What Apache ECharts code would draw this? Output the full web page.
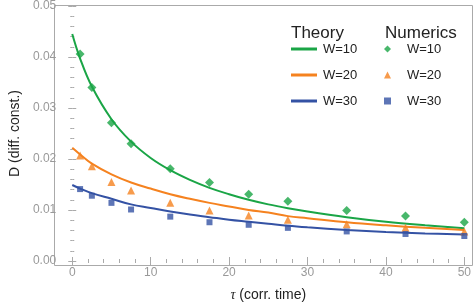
<!DOCTYPE html>
<html><head><meta charset="utf-8">
<script src="https://cdn.jsdelivr.net/npm/echarts@6/dist/echarts.min.js"></script>
<style>html,body{margin:0;padding:0;background:#fff}#c{width:474px;height:307px}</style>
</head><body><div id="c"></div>
<script>
// Theory curves
var tauTheory = [0, 1, 2.5, 5, 7.5, 10, 12.5, 15, 17.5, 20, 22.5, 25, 27.5, 30, 35, 40, 45, 50];
var theoryW10 = [0.0445, 0.0397, 0.0342, 0.0278, 0.0234, 0.0202, 0.0178, 0.0159, 0.01435, 0.0131, 0.0120, 0.0111, 0.01035, 0.0097, 0.0086, 0.0077, 0.0070, 0.0064];
var theoryW20 = [0.0222, 0.0209, 0.0191, 0.0170, 0.0154, 0.0142, 0.0131, 0.0122, 0.0114, 0.0107, 0.0100, 0.0095, 0.0088, 0.0084, 0.0076, 0.0070, 0.0065, 0.0061];
var theoryW30 = [0.0149, 0.0142, 0.0133, 0.0122, 0.0111, 0.0104, 0.0097, 0.0091, 0.0086, 0.0081, 0.0077, 0.0073, 0.0069, 0.0066, 0.0061, 0.0057, 0.0054, 0.0052];
// Numerics points
var tauNum = [1, 2.5, 5, 7.5, 12.5, 17.5, 22.5, 27.5, 35, 42.5, 50];
var numW10 = [0.0406, 0.0340, 0.0271, 0.0230, 0.0181, 0.0154, 0.0131, 0.0117, 0.0099, 0.0088, 0.0076];
var numW20 = [0.0207, 0.0186, 0.0155, 0.0138, 0.0114, 0.0099, 0.0089, 0.0081, 0.0072, 0.0065, 0.0058];
var numW30 = [0.0141, 0.0128, 0.0114, 0.0101, 0.0087, 0.0076, 0.0071, 0.0065, 0.0058, 0.0053, 0.0049];
var labels = ['W=10', 'W=20', 'W=30'];
var colors = ['#1aa546', '#f5821f', '#3452a4'];
var symbols = ['diamond', 'triangle', 'rect'];
var symbolSizes = [9, 8, 6];

function pairs(xs, ys) { return xs.map(function (x, i) { return [x, ys[i]]; }); }
var theory = [theoryW10, theoryW20, theoryW30];
var nums = [numW10, numW20, numW30];
var series = [];
theory.forEach(function (ys, i) {
  series.push({ name: labels[i], type: 'line', data: pairs(tauTheory, ys), smooth: 0.4, symbol: 'none',
    lineStyle: { color: colors[i], width: 2 }, itemStyle: { color: colors[i] }, z: 2 });
});
nums.forEach(function (ys, i) {
  series.push({ name: labels[i] + ' (num)', type: 'scatter', data: pairs(tauNum, ys), symbol: symbols[i],
    symbolSize: symbolSizes[i], itemStyle: { color: colors[i] }, z: 3 });
});

var gray = '#aaaaaa';
var tickCommon = { show: true, inside: true, length: 4, lineStyle: { color: gray } };
var minorCommon = { show: true, length: 2, lineStyle: { color: gray } };
var font = 'Liberation Sans, Arial, sans-serif';

var chart = echarts.init(document.getElementById('c'));
chart.setOption({
  animation: false,
  textStyle: { fontFamily: font },
  grid: { left: 62, right: 8, top: 5, bottom: 42, containLabel: false },
  title: [
    { text: 'Theory', left: 286, top: 20, textStyle: { fontSize: 17, fontWeight: 'normal', color: '#222', fontFamily: font } },
    { text: 'Numerics', left: 380, top: 20, textStyle: { fontSize: 17, fontWeight: 'normal', color: '#222', fontFamily: font } }
  ],
  legend: [
    { data: labels, orient: 'vertical', left: 286, top: 36, itemWidth: 26, itemHeight: 3, itemGap: 10, icon: 'rect',
      textStyle: { fontSize: 13, color: '#222', lineHeight: 16, padding: [0, 0, 0, 1] }, selectedMode: false },
    { data: labels.map(function (l) { return l + ' (num)'; }), orient: 'vertical', left: 379, top: 36, itemWidth: 7, itemHeight: 7, itemGap: 10,
      formatter: function (n) { return n.replace(' (num)', ''); },
      textStyle: { fontSize: 13, color: '#222', lineHeight: 16, padding: [0, 0, 0, 11] }, selectedMode: false }
  ],
  graphic: [{ type: 'rect', shape: { x: 54.5, y: 5.5, width: 418, height: 260 }, style: { fill: 'none', stroke: gray, lineWidth: 1 }, silent: true, z: 0 }],
  xAxis: [
    { type: 'value', min: 0, max: 50, interval: 10, position: 'bottom',
      axisLine: { show: false }, axisTick: tickCommon, minorTick: Object.assign({ splitNumber: 5 }, minorCommon), splitLine: { show: false },
      axisLabel: { color: '#999', fontSize: 12, margin: 6 },
      name: '{i|τ} (corr. time)', nameLocation: 'middle', nameGap: 27,
      nameTextStyle: { fontSize: 14, color: '#222', rich: { i: { fontStyle: 'italic', fontSize: 14, color: '#222', fontFamily: 'Liberation Serif, serif' } } } },
    { type: 'value', min: 0, max: 50, interval: 10, position: 'top',
      axisLine: { show: false }, axisTick: tickCommon, minorTick: Object.assign({ splitNumber: 5 }, minorCommon), splitLine: { show: false },
      axisLabel: { show: false } }
  ],
  yAxis: [
    { type: 'value', min: 0, max: 0.05, interval: 0.01, position: 'left', offset: 8,
      axisLine: { show: false }, axisTick: tickCommon, minorTick: Object.assign({ splitNumber: 5 }, minorCommon), splitLine: { show: false },
      axisLabel: { color: '#999', fontSize: 12, margin: 8, formatter: function (v) { return v.toFixed(2); } },
      name: 'D (diff. const.)', nameLocation: 'middle', nameGap: 27, nameTextStyle: { fontSize: 14, color: '#222' } },
    { type: 'value', min: 0, max: 0.05, interval: 0.01, position: 'right', offset: 7,
      axisLine: { show: false }, axisTick: tickCommon, minorTick: Object.assign({ splitNumber: 5 }, minorCommon), splitLine: { show: false },
      axisLabel: { show: false } }
  ],
  series: series
});
</script></body></html>
